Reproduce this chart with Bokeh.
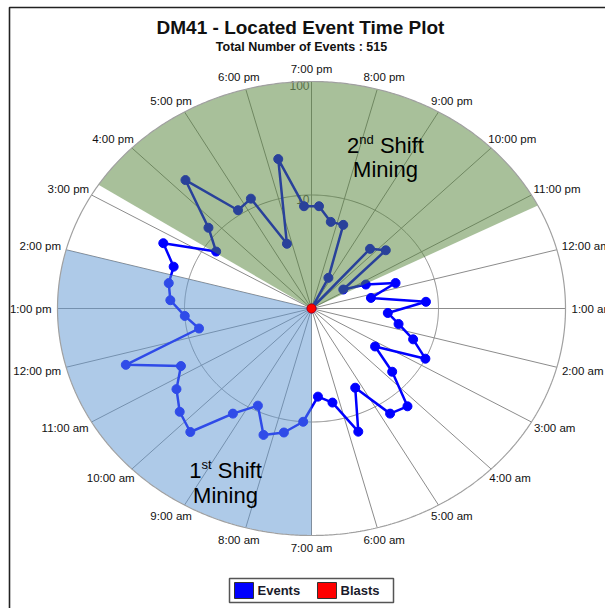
import numpy as np
from bokeh.plotting import figure
from bokeh.models import Range1d
from bokeh.core.properties import value
from bokeh.embed import file_html
from bokeh.resources import INLINE

# ---------------- data ----------------
title_text = "DM41 - Located Event Time Plot"
subtitle_text = "Total Number of Events : 515"

hour_ticks = [0, 1, 2, 3, 4, 5, 6, 7, 8, 9, 10, 11,
              12, 13, 14, 15, 16, 17, 18, 19, 20, 21, 22, 23]
hour_labels = ["12:00 am", "1:00 am", "2:00 am", "3:00 am", "4:00 am", "5:00 am",
               "6:00 am", "7:00 am", "8:00 am", "9:00 am", "10:00 am", "11:00 am",
               "12:00 pm", "1:00 pm", "2:00 pm", "3:00 pm", "4:00 pm", "5:00 pm",
               "6:00 pm", "7:00 pm", "8:00 pm", "9:00 pm", "10:00 pm", "11:00 pm"]

# half-hour bins (bin centre, hours after midnight)
bin_hours = [0.25, 0.75, 1.25, 1.75, 2.25, 2.75, 3.25, 3.75,
             4.25, 4.75, 5.25, 5.75, 6.25, 6.75, 7.25, 7.75,
             8.25, 8.75, 9.25, 9.75, 10.25, 10.75, 11.25, 11.75,
             12.25, 12.75, 13.25, 13.75, 14.25, 14.75, 15.25, 15.75,
             16.25, 16.75, 17.25, 17.75, 18.25, 18.75, 19.25, 19.75,
             20.25, 20.75, 21.25, 21.75, 22.25, 22.75, 23.25, 23.75]
event_counts = [3, 8, 4, 5, 7, 10, 4, 7,
                14, 13, 6, 14, 7, 6, 10, 13,
                15, 9, 13, 28, 24, 19, 14, 35,
                8, 10, 13, 14, 14, 20, 8, 12,
                32, 11, 12, 4, 22, 8, 8, 6,
                6, 2, 1, 5, 6, 2, 3, 5]

blast_hours = [0.0]
blast_counts = [1]

radial_ticks = [10, 100]
radial_tick_labels = ["10", "100"]
radial_max = 100

shift1_hours = [7.0, 14.0]     # 1st shift mining
shift2_hours = [15.2, 23.2]    # 2nd shift mining

legend_labels = ["Events", "Blasts"]
legend_colors = ["#0000ff", "#ff0000"]

# ---------------- geometry helpers ----------------
W, H = 605, 608
CX, CY = 311, 308          # pixel centre of the polar plot
SX, SY = 254, 227          # pixel radius horizontally / vertically
FONT = value("Liberation Sans")

def X(px):
    return (px - CX) / SX

def Y(py):
    return (CY - py) / SY

def ang(h):
    return np.radians((np.asarray(h, dtype=float) - 19.0) * 15.0)

def rad(v):
    return np.log10(np.maximum(np.asarray(v, dtype=float), 1.0)) / np.log10(radial_max)

def pol(h, v):
    a = ang(h)
    r = rad(v)
    return r * np.sin(a), r * np.cos(a)

ARIAL = {'0': .556, '1': .556, '2': .556, '3': .556, '4': .556, '5': .556,
         '6': .556, '7': .556, '8': .556, '9': .556, ':': .278, ' ': .278,
         'a': .556, 'm': .833, 'p': .556, 'n': .556, 'd': .556, 's': .5,
         't': .278, 'S': .667, 'h': .556, 'i': .222, 'f': .278, 'M': .833,
         'g': .556}

def tw(s, fs):
    return sum(ARIAL.get(ch, .556) for ch in s) * fs

# ---------------- figure ----------------
p = figure(width=W, height=H,
           x_range=Range1d(X(0), X(W)), y_range=Range1d(Y(H), Y(0)),
           output_backend="svg", toolbar_location=None, min_border=0,
           x_axis_location=None, y_axis_location=None)
p.grid.visible = False
p.outline_line_color = None
p.background_fill_color = "white"
p.border_fill_color = "white"

# polar grid
tt = np.linspace(0, 2 * np.pi, 721)
r10 = float(rad(radial_ticks[0]))
p.line(r10 * np.sin(tt), r10 * np.cos(tt), line_color="#8c8c8c", line_width=1)

sp_a = ang(hour_ticks)
p.multi_line(xs=[[0, float(np.sin(a))] for a in sp_a],
             ys=[[0, float(np.cos(a))] for a in sp_a],
             line_color="#8c8c8c", line_width=1)

# radial tick labels along the 7 pm spoke
for rv, lab in zip(radial_ticks, radial_tick_labels):
    p.text(x=[X(CX - 2)], y=[float(rad(rv)) - 4 / SY], text=[lab],
           text_font=FONT, text_font_size="12px", text_color="#5a5a5a",
           text_align="right", text_baseline="middle")

# events series (closed loop around the clock)
ex, ey = pol(bin_hours, event_counts)
p.line(np.append(ex, ex[0]), np.append(ey, ey[0]), line_color="#0000ff", line_width=2.5)
p.scatter(ex, ey, size=9, marker="circle", fill_color="#0000ff", line_color="#0000ff")

# shift sectors (translucent, drawn above the data)
def sector(h0, h1, color):
    hh = np.linspace(h0, h1, 200)
    a = ang(hh)
    xs = np.concatenate([[0.0], np.sin(a), [0.0]])
    ys = np.concatenate([[0.0], np.cos(a), [0.0]])
    p.patch(xs, ys, fill_color=color, fill_alpha=0.5, line_color=None)

sector(shift1_hours[0], shift1_hours[1], (93, 149, 209))
sector(shift2_hours[0], shift2_hours[1], (81, 129, 53))

# outer ring
p.line(np.sin(tt), np.cos(tt), line_color="#a0a0a0", line_width=1.2)

# blasts
bx, by = pol(blast_hours, blast_counts)
p.scatter(bx, by, size=9, marker="circle", fill_color="#ff0000", line_color="#c00000")

# hour labels
fs = 11.5
gap = 6
lx, ly, lt = [], [], []
for h, lab in zip(hour_ticks, hour_labels):
    a = float(ang(h))
    s, c = np.sin(a), np.cos(a)
    px = CX + s * SX + s * gap
    py = CY - c * SY - c * gap
    w = tw(lab, fs)
    hg = fs * 1.15
    left = px - (1 - s) / 2 * w
    top = py - (1 + c) / 2 * hg
    lx.append(X(left))
    ly.append(Y(top + hg / 2))
    lt.append(lab)
p.text(x=lx, y=ly, text=lt, text_font=FONT, text_font_size=f"{fs}px",
       text_color="#111111", text_align="left", text_baseline="middle")

# shift annotations with superscripts
def shift_label(cx, base1, base2, num, sup):
    big, small = 22, 13
    parts = [(num, big, 0), (sup, small, -6), (" Shift", big, 0)]
    total = sum(tw(t, f) for t, f, _ in parts)
    xcur = cx - total / 2
    for t, f, dy in parts:
        txt = t.strip()
        off = tw(t, f) - tw(txt, f)
        p.text(x=[X(xcur + off)], y=[Y(base1 + dy)], text=[txt], text_font=FONT,
               text_font_size=f"{f}px", text_color="black",
               text_align="left", text_baseline="alphabetic")
        xcur += tw(t, f)
    p.text(x=[X(cx)], y=[Y(base2)], text=["Mining"], text_font=FONT,
           text_font_size=f"{big}px", text_color="black",
           text_align="center", text_baseline="alphabetic")

shift_label(385, 145, 169, "2", "nd")
shift_label(225, 470, 495, "1", "st")

# titles
p.text(x=[X(300)], y=[Y(27)], text=[title_text], text_font=FONT, text_font_size="19px",
       text_font_style="bold", text_color="#111111", text_align="center", text_baseline="middle")
p.text(x=[X(301)], y=[Y(46)], text=[subtitle_text], text_font=FONT, text_font_size="12.5px",
       text_font_style="bold", text_color="#111111", text_align="center", text_baseline="middle")

# legend
p.quad(left=[X(229)], right=[X(393)], top=[Y(578)], bottom=[Y(602)],
       fill_color="white", line_color="#555555", line_width=1.5)
leg_sq_left = [234, 317]
leg_txt_left = [257, 340]
for i, (lab, col) in enumerate(zip(legend_labels, legend_colors)):
    p.quad(left=[X(leg_sq_left[i])], right=[X(leg_sq_left[i] + 19)],
           top=[Y(582)], bottom=[Y(598)], fill_color=col, line_color="#333333", line_width=1)
    p.text(x=[X(leg_txt_left[i])], y=[Y(590)], text=[lab], text_font=FONT,
           text_font_size="13px", text_font_style="bold", text_color="#1a1a2a",
           text_align="left", text_baseline="middle")

# outer frame
p.line([X(9), X(9), X(700)], [Y(700), Y(7), Y(7)], line_color="#222222", line_width=1.6)

open("out.html", "w").write(file_html(p, INLINE))
